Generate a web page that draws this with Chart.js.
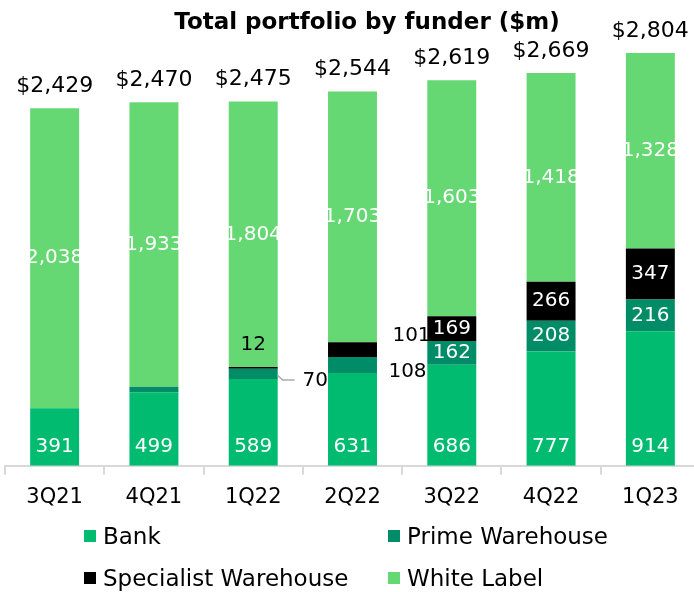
<!DOCTYPE html>
<html>
<head>
<meta charset="utf-8">
<script src="https://cdn.jsdelivr.net/npm/chart.js@4"></script>
<style>
  html, body { margin: 0; padding: 0; background: #fff; overflow: hidden; }
  #wrap { position: relative; width: 694px; height: 592px; overflow: hidden; }
  #box { position: absolute; left: 0; top: 0; width: 734px; height: 520px; }
  #title { position: absolute; left: 0; top: 6px; width: 734px; text-align: center;
           font-family: 'DejaVu Sans'; font-weight: bold; font-size: 23px; line-height: 30px; color: #000; }
  #legend { position: absolute; left: 0; top: 0; width: 694px; height: 592px;
            font-family: 'DejaVu Sans'; font-size: 23px; color: #000; }
  .item { position: absolute; display: flex; align-items: center; height: 30px; white-space: nowrap; }
  .sw { width: 12px; height: 12px; margin-right: 7px; }
</style>
</head>
<body>
<div id="wrap">
  <div id="box"><canvas id="chart"></canvas></div>
  <div id="title">Total portfolio by funder ($m)</div>
  <div id="legend"></div>
</div>
<script>
// Data
const quarters = ['3Q21', '4Q21', '1Q22', '2Q22', '3Q22', '4Q22', '1Q23'];
const bank = [391, 499, 589, 631, 686, 777, 914];
const primeWarehouse = [0, 38, 70, 108, 162, 208, 216];
const specialistWarehouse = [0, 0, 12, 101, 169, 266, 347];
const whiteLabel = [2038, 1933, 1804, 1703, 1603, 1418, 1328];
const totals = [2429, 2470, 2475, 2544, 2619, 2669, 2804];

const FONT = 'DejaVu Sans';
const fmt = v => v.toLocaleString('en-US');

// small segments get their label outside the bar (offsets from bar centre / segment centre)
const callouts = {
  'Prime Warehouse': { 2: { dx: 62, dy: 7, leader: true }, 3: { dx: 55, dy: 7 } },
  'Specialist Warehouse': { 2: { dx: 0, dy: -23 }, 3: { dx: 59, dy: -14 } }
};

const segmentLabels = {
  id: 'segmentLabels',
  afterDatasetsDraw(chart) {
    const ctx = chart.ctx;
    ctx.save();
    ctx.textAlign = 'center';
    ctx.textBaseline = 'middle';
    ctx.font = '20px "' + FONT + '"';
    chart.data.datasets.forEach((ds, di) => {
      const meta = chart.getDatasetMeta(di);
      meta.data.forEach((bar, i) => {
        const v = ds.data[i];
        if (!v) return;
        const top = Math.min(bar.y, bar.base);
        const bottom = Math.max(bar.y, bar.base);
        const cy = (top + bottom) / 2;
        const c = (callouts[ds.label] || {})[i];
        if (c) {
          if (c.leader) {
            const right = bar.x + bar.width / 2;
            ctx.strokeStyle = '#aaaaaa';
            ctx.lineWidth = 1.5;
            ctx.beginPath();
            ctx.moveTo(right, cy + 1.5);
            ctx.lineTo(right + 5, cy + 6);
            ctx.lineTo(right + 17, cy + 6);
            ctx.stroke();
          }
          ctx.fillStyle = '#000';
          ctx.fillText(fmt(v), bar.x + c.dx, cy + c.dy);
          return;
        }
        if (bottom - top < 20) return;
        ctx.fillStyle = '#fff';
        if (ds.label === 'Bank') {
          ctx.fillText(fmt(v), bar.x, bottom - 19);
        } else {
          ctx.fillText(fmt(v), bar.x, cy);
        }
      });
    });
    // totals above each stack
    ctx.font = '22px "' + FONT + '"';
    ctx.fillStyle = '#000';
    const last = chart.getDatasetMeta(chart.data.datasets.length - 1);
    last.data.forEach((bar, i) => {
      ctx.fillText('$' + fmt(totals[i]), bar.x, bar.y - 22);
    });
    ctx.restore();
  }
};

const ctx = document.getElementById('chart').getContext('2d');
const chart = new Chart(ctx, {
  type: 'bar',
  data: {
    labels: quarters,
    datasets: [
      { label: 'Bank', data: bank, backgroundColor: '#00bb70' },
      { label: 'Prime Warehouse', data: primeWarehouse, backgroundColor: '#008c67' },
      { label: 'Specialist Warehouse', data: specialistWarehouse, backgroundColor: '#000000' },
      { label: 'White Label', data: whiteLabel, backgroundColor: '#66d873' }
    ]
  },
  options: {
    responsive: true,
    maintainAspectRatio: false,
    animation: false,
    layout: { padding: { left: 5, right: 34, top: 39, bottom: 0 } },
    datasets: { bar: { categoryPercentage: 1, barPercentage: 0.493, borderWidth: 0 } },
    plugins: {
      legend: { display: false },
      tooltip: { enabled: false }
    },
    scales: {
      x: {
        stacked: true,
        border: { color: '#d9d9d9', width: 2 },
        grid: { drawOnChartArea: false, drawTicks: true, tickLength: 9, color: '#d9d9d9', lineWidth: 2 },
        ticks: { color: '#000', padding: 10, font: { family: FONT, size: 21 } }
      },
      y: {
        stacked: true,
        display: false,
        min: 0,
        max: 2900
      }
    }
  },
  plugins: [segmentLabels]
});

// two-column legend below the chart
const spots = [[84, 521], [388, 521], [84, 563], [388, 563]];
const legend = document.getElementById('legend');
chart.data.datasets.forEach((ds, i) => {
  const item = document.createElement('div');
  item.className = 'item';
  item.style.left = spots[i][0] + 'px';
  item.style.top = spots[i][1] + 'px';
  item.innerHTML = '<span class="sw" style="background:' + ds.backgroundColor + '"></span>' + ds.label;
  legend.appendChild(item);
});
</script>
</body>
</html>
